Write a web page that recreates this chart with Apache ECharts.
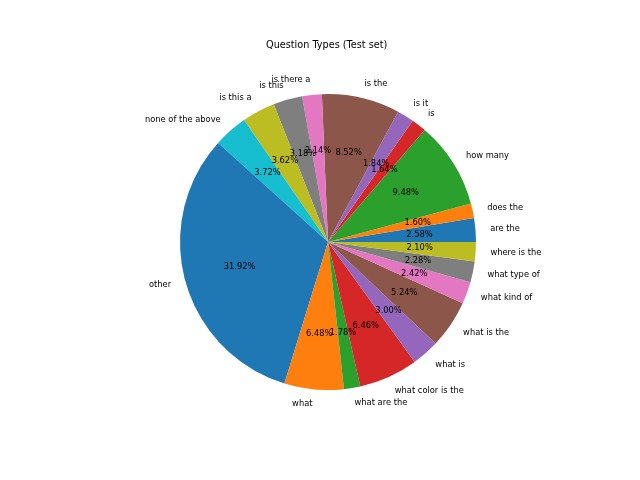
<!DOCTYPE html>
<html lang="en">
<head>
    <meta charset="UTF-8">
    <title>Question Types (Test set)</title>
    <script src="https://cdn.jsdelivr.net/npm/echarts@6/dist/echarts.min.js"></script>
    <style>
        html, body { margin: 0; padding: 0; background: #fff; }
        #pie_show { width: 640px; height: 480px; }
    </style>
</head>
<body>
    <div id="pie_show"></div>
    <script type="text/javascript">
        // question types, in the order the slices are drawn (counter-clockwise from 3 o'clock)
        var types = ['are the', 'does the', 'how many', 'is', 'is it', 'is the', 'is there a',
            'is this', 'is this a', 'none of the above', 'other', 'what', 'what are the',
            'what color is the', 'what is', 'what is the', 'what kind of', 'what type of', 'where is the'];
        var shares = [2.58, 1.60, 9.48, 1.64, 1.84, 8.52, 2.14,
            3.18, 3.62, 3.72, 31.92, 6.48, 1.78,
            6.46, 3.00, 5.24, 2.42, 2.28, 2.10];
        var palette = ['#1f77b4', '#ff7f0e', '#2ca02c', '#d62728', '#9467bd',
            '#8c564b', '#e377c2', '#7f7f7f', '#bcbd22', '#17becf'];

        var R = 148;
        var center = [328, 242];
        var font = 'DejaVu Sans';

        var pieData = types.map(function (t, i) {
            return { name: t, value: shares[i], itemStyle: { color: palette[i % 10] } };
        });

        var myChart = echarts.init(document.getElementById('pie_show'));
        var option = {
            animation: false,
            title: {
                text: 'Question Types (Test set)',
                left: 266,
                top: 40,
                padding: 0,
                textStyle: { fontFamily: font, fontSize: 9.7, fontWeight: 'normal', color: '#000' }
            },
            series: [
                {
                    // slices + outer names (matplotlib labeldistance 1.1)
                    type: 'pie',
                    center: center,
                    radius: [0, R],
                    startAngle: 0,
                    clockwise: false,
                    silent: true,
                    avoidLabelOverlap: false,
                    labelLayout: { hideOverlap: false },
                    itemStyle: { borderWidth: 0 },
                    label: {
                        show: true,
                        position: 'outside',
                        distanceToLabelLine: 0,
                        fontFamily: font,
                        fontSize: 8.3,
                        color: '#000',
                        formatter: '{b}'
                    },
                    labelLine: { show: false, length: R * 0.1, length2: 0 },
                    data: pieData
                },
                {
                    // percentage labels (pctdistance 0.6)
                    type: 'pie',
                    center: center,
                    radius: [R * 0.2, R],
                    startAngle: 0,
                    clockwise: false,
                    silent: true,
                    avoidLabelOverlap: false,
                    labelLayout: { hideOverlap: false },
                    itemStyle: { color: 'rgba(0,0,0,0)', borderWidth: 0 },
                    label: {
                        show: true,
                        position: 'inside',
                        fontFamily: font,
                        fontSize: 8.3,
                        color: '#000',
                        formatter: function (p) { return p.value.toFixed(2) + '%'; }
                    },
                    labelLine: { show: false },
                    data: types.map(function (t, i) { return { name: t, value: shares[i] }; })
                }
            ]
        };
        myChart.setOption(option);
    </script>
</body>
</html>
